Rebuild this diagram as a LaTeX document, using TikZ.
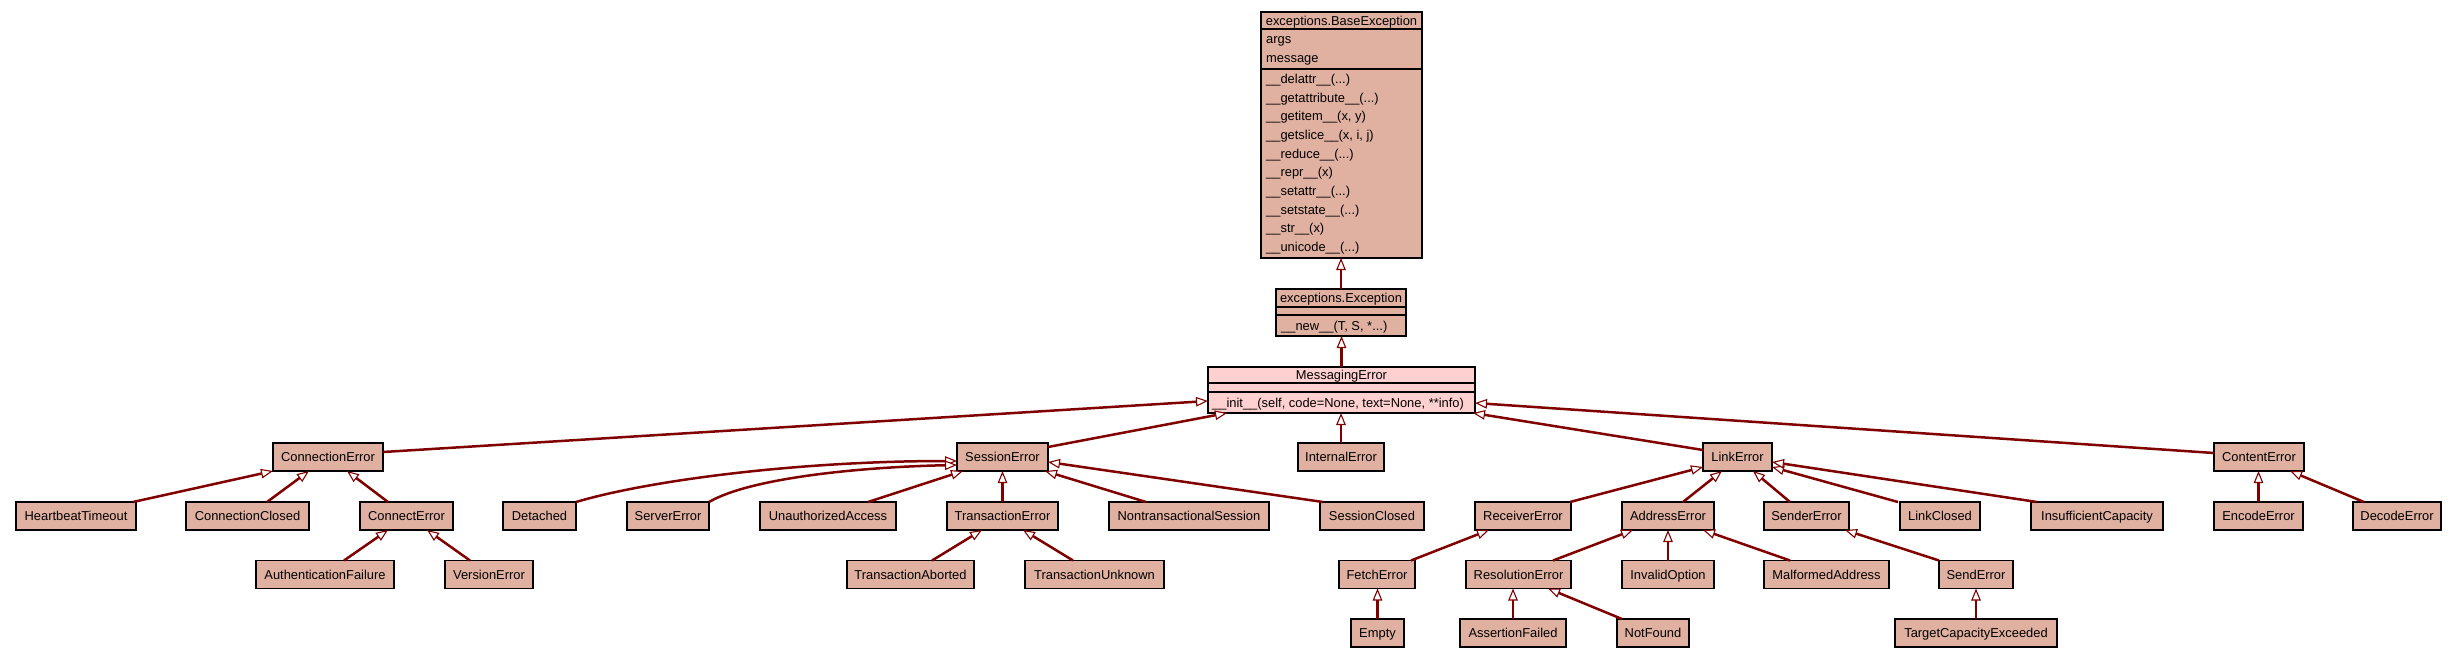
\documentclass[tikz,border=0pt]{standalone}
\usepackage{fontspec}
\setmainfont{Liberation Sans}
\usetikzlibrary{arrows.meta,calc}
\definecolor{clsbg}{HTML}{E0B0A0}
\definecolor{selbg}{HTML}{FFD0D0}
\definecolor{inhcol}{HTML}{800000}
\begin{document}
\begin{tikzpicture}[x=1pt,y=-1pt,
  txt/.style={font=\fontsize{12.9}{15}\selectfont, text height=10.3pt, text depth=1pt},
  cls/.style={draw=black, line width=1.3pt, fill=clsbg, inner sep=0pt, outer sep=0pt, minimum height=28pt, txt},
  box/.style={draw=black, line width=1.3pt, fill=clsbg, inner sep=0pt, outer sep=0pt},
  sep/.style={draw=black, line width=1.3pt},
  lbl/.style={inner sep=0pt, anchor=west, txt},
  ttl/.style={inner sep=0pt, anchor=center, txt},
  inhedge/.style={draw=inhcol, line width=2.5pt, -{Triangle[length=12pt,width=9.5pt,fill=white,line width=1.1pt]}},
]
\useasboundingbox (0,0) rectangle (2457,659);

% ---- BaseException ----
\node[box, minimum width=161pt, minimum height=246pt] (BE) at (1341.5,135) {};
\draw[sep] ($(BE.north west)+(0,17)$) -- ($(BE.north east)+(0,17)$);
\draw[sep] ($(BE.north west)+(0,57)$) -- ($(BE.north east)+(0,57)$);
\node[ttl] (BEt) at (1341.5,20.5) {exceptions.BaseException};
\node[lbl] (BEa1) at (1266,39) {args};
\node[lbl] (BEa2) at (1266,57.5) {message};
\node[lbl] (BEm1) at (1266,79) {\_\_delattr\_\_(...)};
\node[lbl] (BEm2) at (1266,97.7) {\_\_getattribute\_\_(...)};
\node[lbl] (BEm3) at (1266,116.3) {\_\_getitem\_\_(x, y)};
\node[lbl] (BEm4) at (1266,135) {\_\_getslice\_\_(x, i, j)};
\node[lbl] (BEm5) at (1266,153.7) {\_\_reduce\_\_(...)};
\node[lbl] (BEm6) at (1266,172.3) {\_\_repr\_\_(x)};
\node[lbl] (BEm7) at (1266,191) {\_\_setattr\_\_(...)};
\node[lbl] (BEm8) at (1266,209.7) {\_\_setstate\_\_(...)};
\node[lbl] (BEm9) at (1266,228.3) {\_\_str\_\_(x)};
\node[lbl] (BEm10) at (1266,247) {\_\_unicode\_\_(...)};

% ---- Exception ----
\node[box, minimum width=130pt, minimum height=47pt] (EX) at (1341,312.5) {};
\draw[sep] ($(EX.north west)+(0,18)$) -- ($(EX.north east)+(0,18)$);
\draw[sep] ($(EX.north west)+(0,26)$) -- ($(EX.north east)+(0,26)$);
\node[ttl] (EXt) at (1341,298) {exceptions.Exception};
\node[lbl] (EXm) at (1281,325.5) {\_\_new\_\_(T, S, *...)};

% ---- MessagingError ----
\node[box, fill=selbg, minimum width=267pt, minimum height=46pt] (ME) at (1341.5,390) {};
\draw[sep] ($(ME.north west)+(0,16)$) -- ($(ME.north east)+(0,16)$);
\draw[sep] ($(ME.north west)+(0,25)$) -- ($(ME.north east)+(0,25)$);
\node[ttl] (MEt) at (1341.5,375) {MessagingError};
\node[lbl] (MEm) at (1212,402.5) {\_\_init\_\_(self, code=None, text=None, **info)};

% ---- row 1 ----
\node[cls, minimum width=110pt] (CE) at (328,457) {ConnectionError};
\node[cls, minimum width=91pt] (SE) at (1002.5,457) {SessionError};
\node[cls, minimum width=86pt] (IE) at (1341,457) {InternalError};
\node[cls, minimum width=69pt] (LE) at (1737.5,457) {LinkError};
\node[cls, minimum width=90pt] (CT) at (2259,457) {ContentError};

% ---- row 2 ----
\node[cls, minimum width=120pt] (HT) at (76,516) {HeartbeatTimeout};
\node[cls, minimum width=123pt] (CC) at (247.5,516) {ConnectionClosed};
\node[cls, minimum width=93pt] (CN) at (406.5,516) {ConnectError};
\node[cls, minimum width=73pt] (DT) at (539.5,516) {Detached};
\node[cls, minimum width=82pt] (SV) at (668,516) {ServerError};
\node[cls, minimum width=136pt] (UA) at (828,516) {UnauthorizedAccess};
\node[cls, minimum width=111pt] (TE) at (1002.5,516) {TransactionError};
\node[cls, minimum width=160pt] (NS) at (1189,516) {NontransactionalSession};
\node[cls, minimum width=104pt] (SC) at (1372,516) {SessionClosed};
\node[cls, minimum width=96pt] (RE) at (1523,516) {ReceiverError};
\node[cls, minimum width=92pt] (AE) at (1668,516) {AddressError};
\node[cls, minimum width=85pt] (SN) at (1806.5,516) {SenderError};
\node[cls, minimum width=80pt] (LC) at (1940,516) {LinkClosed};
\node[cls, minimum width=132pt] (IC) at (2097,516) {InsufficientCapacity};
\node[cls, minimum width=89pt] (EN) at (2258.5,516) {EncodeError};
\node[cls, minimum width=88pt] (DE) at (2397,516) {DecodeError};

% ---- row 3 ----
\node[cls, minimum width=138pt] (AF) at (325,574.5) {AuthenticationFailure};
\node[cls, minimum width=88pt] (VE) at (489,574.5) {VersionError};
\node[cls, minimum width=127pt] (TA) at (910.5,574.5) {TransactionAborted};
\node[cls, minimum width=139pt] (TU) at (1094.5,574.5) {TransactionUnknown};
\node[cls, minimum width=76pt] (FE) at (1377,574.5) {FetchError};
\node[cls, minimum width=105pt] (RS) at (1518.5,574.5) {ResolutionError};
\node[cls, minimum width=92pt] (IO) at (1668,574.5) {InvalidOption};
\node[cls, minimum width=125pt] (MA) at (1826.5,574.5) {MalformedAddress};
\node[cls, minimum width=74pt] (SD) at (1976,574.5) {SendError};

% ---- row 4 ----
\node[cls, minimum width=53pt] (EM) at (1377.5,633) {Empty};
\node[cls, minimum width=106pt] (AS) at (1513,633) {AssertionFailed};
\node[cls, minimum width=72pt] (NF) at (1653,633) {NotFound};
\node[cls, minimum width=162pt] (TC) at (1976,633) {TargetCapacityExceeded};

% ---- edges ----
\draw[inhedge] (EX.north) -- (EX.north |- BE.south);
\draw[inhedge] (ME.north) -- (ME.north |- EX.south);
\draw[inhedge] ([yshift=5pt]CE.east) -- ([yshift=-11pt]ME.west);
\draw[inhedge] ([yshift=-4pt]SE.north east) -- ([xshift=19pt]ME.south west);
\draw[inhedge] (IE.north) -- (IE.north |- ME.south);
\draw[inhedge] ([yshift=-7pt]LE.north west) -- ([xshift=-2pt]ME.south east);
\draw[inhedge] ([yshift=4pt]CT.west) -- ([yshift=-13pt]ME.east);

\draw[inhedge] ([xshift=-3pt]HT.north east) -- (CE.south west);
\draw[inhedge] ([xshift=81pt]CC.north west) -- ([xshift=36pt]CE.south west);
\draw[inhedge] ([xshift=28pt]CN.north west) -- ([xshift=74pt]CE.south west);
\draw[inhedge] ([xshift=88pt]AF.north west) -- ([xshift=28pt]CN.south west);
\draw[inhedge] ([xshift=25pt]VE.north west) -- ([xshift=67pt]CN.south west);

\draw[inhedge] (DT.north east) .. controls (650,480) and (800,461) .. ([yshift=-4pt]SE.west);
\draw[inhedge] (SV.north east) .. controls (750,478) and (860,467) .. ([yshift=-8pt]SE.west);
\draw[inhedge] ([xshift=108pt]UA.north west) -- ([xshift=6pt]SE.south west);
\draw[inhedge] (TE.north) -- (TE.north |- SE.south);
\draw[inhedge] ([xshift=37pt]NS.north west) -- ([xshift=-3pt]SE.south east);
\draw[inhedge] ([xshift=3pt]SC.north west) -- ([yshift=-5pt]SE.east);
\draw[inhedge] ([xshift=85pt]TA.north west) -- ([xshift=35pt]TE.south west);
\draw[inhedge] ([xshift=48pt]TU.north west) -- ([xshift=76pt]TE.south west);

\draw[inhedge] ([xshift=-1pt]RE.north east) -- ([yshift=4pt]LE.south west);
\draw[inhedge] ([xshift=61pt]AE.north west) -- ([xshift=19pt]LE.south west);
\draw[inhedge] ([xshift=26pt]SN.north west) -- ([xshift=50pt]LE.south west);
\draw[inhedge] ([xshift=-2pt]LC.north west) -- ([yshift=4pt]LE.south east);
\draw[inhedge] ([xshift=6pt]IC.north west) -- ([yshift=-5pt]LE.east);

\draw[inhedge] ([xshift=-4pt]FE.north east) -- ([xshift=14pt]RE.south west);
\draw[inhedge] ([xshift=87pt]RS.north west) -- ([xshift=11pt]AE.south west);
\draw[inhedge] (IO.north) -- (IO.north |- AE.south);
\draw[inhedge] ([xshift=26pt]MA.north west) -- ([xshift=-11pt]AE.south east);
\draw[inhedge] (SD.north west) -- ([xshift=-4pt]SN.south east);

\draw[inhedge] (EM.north) -- (EM.north |- FE.south);
\draw[inhedge] (AS.north) -- (AS.north |- RS.south);
\draw[inhedge] ([xshift=5pt]NF.north west) -- ([xshift=-23pt]RS.south east);
\draw[inhedge] (TC.north) -- (TC.north |- SD.south);

\draw[inhedge] (EN.north) -- (EN.north |- CT.south);
\draw[inhedge] ([xshift=11pt]DE.north west) -- ([xshift=-14pt]CT.south east);
\end{tikzpicture}
\end{document}
